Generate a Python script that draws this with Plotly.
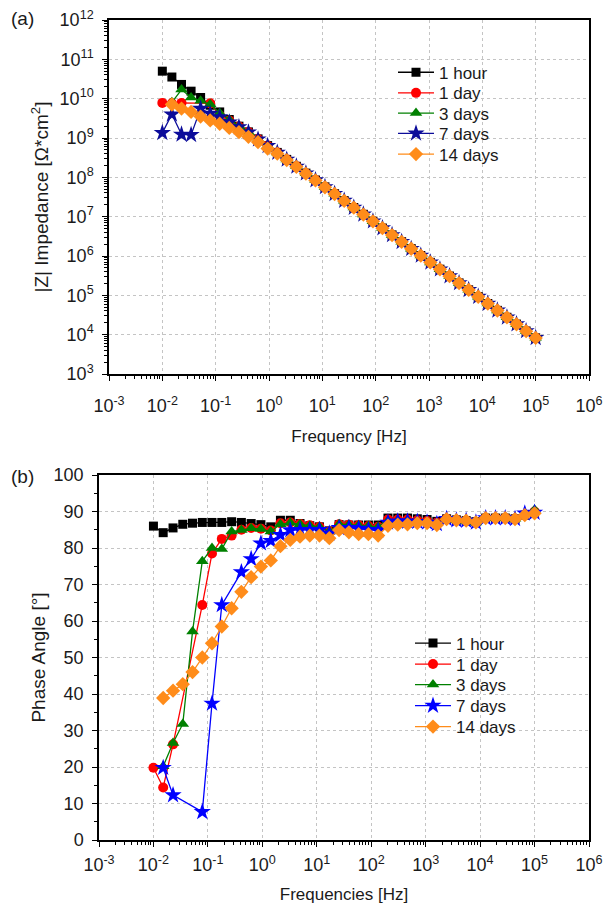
import plotly.graph_objects as go

# ---------------- data ----------------
freq = [0.01, 0.0151, 0.0229, 0.0346, 0.0522, 0.0789, 0.119, 0.180, 0.273, 0.412,
        0.623, 0.942, 1.43, 2.15, 3.26, 4.92, 7.44, 11.2, 17.0, 25.7,
        38.9, 58.8, 88.9, 134, 203, 307, 464, 702, 1061, 1604,
        2425, 3665, 5541, 8377, 12665, 19148, 28947, 43764, 66164, 100000]

series_names = ["1 hour", "1 day", "3 days", "7 days", "14 days"]

# |Z| impedance [Ohm*cm2]
z_1hour = [5.0e10, 3.55e10, 2.3e10, 1.55e10, 1.07e10, 6.8e9, 4.6e9, 2.95e9, 2.0e9, 1.43e9,
           9.5e8, 6.4e8, 4.3e8, 2.86e8, 1.91e8, 1.28e8, 8.55e7, 5.73e7, 3.83e7, 2.56e7,
           1.71e7, 1.15e7, 7.69e6, 5.14e6, 3.44e6, 2.31e6, 1.54e6, 1.03e6, 6.9e5, 4.62e5,
           3.09e5, 2.07e5, 1.38e5, 9.27e4, 6.2e4, 4.15e4, 2.77e4, 1.86e4, 1.24e4, 8.3e3]
z_1day = [7.8e9, 7.6e9, 7.8e9, None, None, 7.6e9, 3.8e9, 2.8e9, 1.95e9, 1.42e9,
          9.4e8, 6.35e8, 4.27e8, 2.85e8, 1.9e8, 1.27e8, 8.5e7, 5.7e7, 3.82e7, 2.55e7,
          1.7e7, 1.14e7, 7.65e6, 5.12e6, 3.43e6, 2.3e6, 1.53e6, 1.03e6, 6.88e5, 4.6e5,
          3.08e5, 2.06e5, 1.38e5, 9.25e4, 6.18e4, 4.14e4, 2.76e4, 1.85e4, 1.24e4, 8.3e3]
z_3days = [None, 8.1e9, 1.7e10, 1.07e10, 8.9e9, 7.2e9, 4.3e9, 2.9e9, 2.0e9, 1.42e9,
           9.45e8, 6.38e8, 4.28e8, 2.85e8, 1.9e8, 1.27e8, 8.5e7, 5.7e7, 3.82e7, 2.55e7,
           1.7e7, 1.14e7, 7.66e6, 5.12e6, 3.43e6, 2.3e6, 1.53e6, 1.03e6, 6.88e5, 4.6e5,
           3.08e5, 2.06e5, 1.38e5, 9.25e4, 6.18e4, 4.14e4, 2.76e4, 1.85e4, 1.24e4, 8.3e3]
z_7days = [1.35e9, 4.0e9, 1.23e9, 1.2e9, 5.6e9, 4.2e9, 3.4e9, 2.5e9, 1.9e9, 1.4e9,
           9.3e8, 6.3e8, 4.25e8, 2.84e8, 1.89e8, 1.27e8, 8.5e7, 5.7e7, 3.82e7, 2.55e7,
           1.7e7, 1.14e7, 7.65e6, 5.12e6, 3.43e6, 2.3e6, 1.53e6, 1.03e6, 6.88e5, 4.6e5,
           3.08e5, 2.06e5, 1.38e5, 9.25e4, 6.18e4, 4.14e4, 2.76e4, 1.85e4, 1.24e4, 8.3e3]
z_14days = [None, 7.1e9, 5.6e9, 4.6e9, 3.5e9, 2.8e9, 2.3e9, 1.8e9, 1.41e9, 1.07e9,
            7.9e8, 5.4e8, 4.0e8, 2.75e8, 1.85e8, 1.24e8, 8.35e7, 5.6e7, 3.77e7, 2.52e7,
            1.69e7, 1.13e7, 7.6e6, 5.1e6, 3.41e6, 2.29e6, 1.53e6, 1.02e6, 6.85e5, 4.58e5,
            3.07e5, 2.05e5, 1.37e5, 9.2e4, 6.15e4, 4.12e4, 2.75e4, 1.84e4, 1.23e4, 8.25e3]

# Phase angle [deg]
p_1hour = [86.0, 84.2, 85.5, 86.5, 86.8, 87.0, 87.0, 87.0, 87.2, 87.0,
           86.7, 86.4, 85.8, 87.6, 87.6, 86.7, 86.1, 85.8, 84.7, 86.4,
           86.3, 86.3, 86.3, 86.3, 88.2, 88.2, 88.2, 88.0, 87.8, 87.3,
           88.0, 87.7, 87.5, 87.2, 88.2, 88.2, 88.2, 88.0, 89.0, 89.5]
p_1day = [19.8, 14.4, 26.2, None, None, 64.4, 78.5, 82.5, 83.4, 85.0,
          85.5, 85.3, 84.8, 86.8, 87.0, 86.6, 86.2, 85.8, 84.5, 86.5,
          86.4, 86.2, 86.0, 85.8, 87.8, 87.8, 87.8, 87.6, 87.4, 87.0,
          88.0, 87.7, 87.5, 87.0, 88.2, 88.2, 88.2, 88.0, 89.2, 90.0]
p_3days = [None, 20.2, 26.6, 31.8, 57.1, 76.4, 80.0, 79.7, 84.5, 84.9,
           85.4, 85.2, 84.5, 86.5, 86.9, 86.5, 86.1, 85.8, 84.5, 86.5,
           86.4, 86.2, 86.0, 85.8, 87.5, 87.6, 87.6, 87.4, 87.2, 86.9,
           88.0, 87.7, 87.5, 87.0, 88.2, 88.2, 88.2, 88.0, 89.5, 90.5]
p_7days = [None, 19.8, 12.3, None, None, 7.7, 37.4, 64.4, None, 73.4,
           77.0, 81.3, 82.0, 83.6, 84.9, 85.0, 85.0, 85.0, 84.0, 85.5,
           85.5, 85.3, 85.0, 84.8, 87.0, 87.3, 87.3, 87.2, 87.0, 86.6,
           88.0, 87.6, 87.5, 87.0, 88.2, 88.2, 88.2, 88.0, 89.5, 89.7]
p_14days = [None, 38.9, 40.9, 42.7, 46.0, 50.0, 53.9, 58.5, 63.5, 68.0,
            72.0, 74.9, 76.6, 80.5, 82.2, 83.1, 83.4, 83.4, 82.7, 84.9,
            84.3, 83.8, 83.8, 83.4, 86.1, 86.4, 86.5, 86.8, 86.8, 86.3,
            87.9, 87.6, 87.5, 87.0, 88.2, 88.2, 88.2, 87.9, 89.0, 89.5]

x_exponents = list(range(-3, 7))
z_exponents = list(range(3, 13))
phase_ticks = list(range(0, 101, 10))

# ---------------- style / layout in pixels ----------------
W, H = 611, 907
L, R, T, B = 99, 22, 20, 67
pw, ph = W - L - R, H - T - B


def px_x(px):
    return (px - L) / pw


def px_y(py):
    return (H - B - py) / ph


FONT = "Liberation Sans, Arial, sans-serif"
TXT = "#1a1a1a"
colors_a = ["#000000", "#ff0000", "#008000", "#0c0c9a", "#ff8c1a"]
colors_b = ["#000000", "#ff0000", "#008000", "#0000ff", "#ff8c1a"]
symbols = ["square", "circle", "triangle-up", "star", "diamond"]
msizes = [9, 10, 11, 13, 11]

z_data = [z_1hour, z_1day, z_3days, z_7days, z_14days]
p_data = [p_1hour, p_1day, p_3days, p_7days, p_14days]

# legend row centres (pixels) and left edges
rows_a = [72.7, 93.3, 113.5, 133.8, 154.5]
rows_b = [643.5, 664.5, 685.0, 706.0, 727.0]
leg_left_a = 393
leg_left_b = 410

fig = go.Figure()
legend_layouts = {}
for i, name in enumerate(series_names):
    lg = "legend" if i == 0 else "legend%d" % (i + 1)
    fig.add_trace(go.Scatter(
        x=freq, y=z_data[i], name=name, mode="lines+markers", connectgaps=True,
        line=dict(color=colors_a[i], width=1.3),
        marker=dict(symbol=symbols[i], size=msizes[i], color=colors_a[i], line=dict(width=0)),
        xaxis="x", yaxis="y", legend=lg, showlegend=True))
    legend_layouts[lg] = dict(x=px_x(leg_left_a), y=px_y(rows_a[i]), xanchor="left", yanchor="middle",
                              bgcolor="rgba(0,0,0,0)", itemwidth=36,
                              font=dict(family=FONT, size=17, color=TXT))
for i, name in enumerate(series_names):
    lg = "legend%d" % (i + 6)
    fig.add_trace(go.Scatter(
        x=freq, y=p_data[i], name=name, mode="lines+markers", connectgaps=True,
        line=dict(color=colors_b[i], width=1.3),
        marker=dict(symbol=symbols[i], size=msizes[i], color=colors_b[i], line=dict(width=0)),
        xaxis="x2", yaxis="y2", legend=lg, showlegend=True))
    legend_layouts[lg] = dict(x=px_x(leg_left_b), y=px_y(rows_b[i]), xanchor="left", yanchor="middle",
                              bgcolor="rgba(0,0,0,0)", itemwidth=36,
                              font=dict(family=FONT, size=17, color=TXT))

minor_x = [m * 10.0 ** e for e in range(-3, 6) for m in range(2, 10)]
minor_z = [m * 10.0 ** e for e in range(3, 12) for m in range(2, 10)]

xtickvals = [10.0 ** e for e in x_exponents]
xticktext = ["10<sup>%d</sup>" % e for e in x_exponents]
ztickvals = [10.0 ** e for e in z_exponents]
zticktext = ["10<sup>%d</sup>" % e for e in z_exponents]

grid = dict(showgrid=True, gridcolor="#c4c4c4", griddash="dot", gridwidth=1)
axis_common = dict(showline=True, linecolor="black", linewidth=1.5, mirror=True,
                   ticks="outside", ticklen=5, tickwidth=1.3, tickcolor="black",
                   zeroline=False, automargin=False,
                   tickfont=dict(family=FONT, size=18, color=TXT),
                   **grid)

fig.update_layout(
    width=W, height=H,
    margin=dict(l=L, r=R, t=T, b=B, autoexpand=False),
    showlegend=True,
    paper_bgcolor="white", plot_bgcolor="white",
    font=dict(family=FONT, size=17, color=TXT),
    xaxis=dict(type="log", range=[-3, 6], domain=[px_x(109), 1], anchor="y",
               tickmode="array", tickvals=xtickvals, ticktext=xticktext, ticklabelstandoff=10,
               minor=dict(tickmode="array", tickvals=minor_x, ticks="outside", ticklen=3,
                          tickcolor="black", showgrid=False),
               title=dict(text="Frequency [Hz]", font=dict(size=17), standoff=15),
               **axis_common),
    yaxis=dict(type="log", range=[3, 12], domain=[px_y(374), px_y(20)], anchor="x",
               tickmode="array", tickvals=ztickvals, ticktext=zticktext, ticklabelstandoff=5,
               minor=dict(tickmode="array", tickvals=minor_z, ticks="outside", ticklen=3,
                          tickcolor="black", showgrid=False),
               title=dict(text="|Z| Impedance [Ω*cm<sup>2</sup>]", font=dict(size=19), standoff=6),
               **axis_common),
    xaxis2=dict(type="log", range=[-3, 6], domain=[0, 1], anchor="y2",
                tickmode="array", tickvals=xtickvals, ticktext=xticktext, ticklabelstandoff=3,
                minor=dict(tickmode="array", tickvals=minor_x, ticks="outside", ticklen=3,
                           tickcolor="black", showgrid=False),
                title=dict(text="Frequencies [Hz]", font=dict(size=17), standoff=14),
                **axis_common),
    yaxis2=dict(range=[0, 100], domain=[0, px_y(475)], anchor="x2",
                tickmode="array", tickvals=phase_ticks, ticklabelstandoff=5,
                minor=dict(dtick=5, ticks="outside", ticklen=3, tickcolor="black", showgrid=False),
                title=dict(text="Phase Angle [°]", font=dict(size=19), standoff=3),
                **axis_common),
    annotations=[
        dict(text="(a)", x=px_x(22), y=px_y(18), xref="paper", yref="paper", showarrow=False,
             xanchor="center", yanchor="middle", font=dict(family=FONT, size=19, color=TXT)),
        dict(text="(b)", x=px_x(22), y=px_y(476), xref="paper", yref="paper", showarrow=False,
             xanchor="center", yanchor="middle", font=dict(family=FONT, size=19, color=TXT)),
    ],
)
fig.update_layout(**legend_layouts)

fig.write_html("out.html")
